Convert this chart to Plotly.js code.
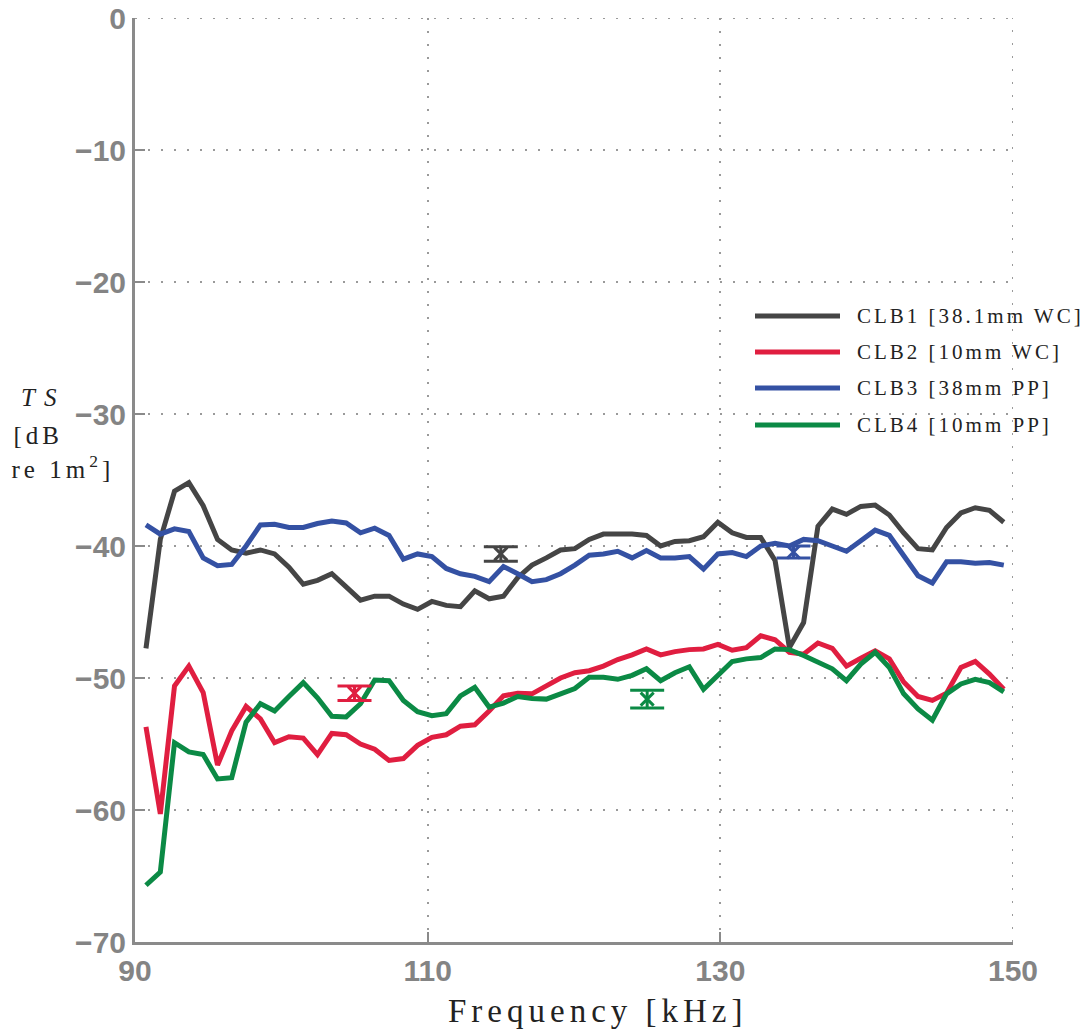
<!DOCTYPE html>
<html>
<head>
<meta charset="utf-8">
<script src="https://cdn.plot.ly/plotly-3.0.1.min.js"></script>
<style>
  html, body { margin: 0; padding: 0; background: #fff; }
  #chart { width: 1091px; height: 1032px; }
  .annotation-text { letter-spacing: 3px; }
  .ytitle-note .annotation-text { letter-spacing: 4px; }
  .ts-note .annotation-text { letter-spacing: 9px; }
  .xtitle-note .annotation-text { letter-spacing: 5px; }
</style>
</head>
<body>
<div id="chart"></div>
<script>
// Sampled frequencies (kHz)
const freq = [
  90.75, 91.73, 92.70, 93.68, 94.66, 95.64, 96.61, 97.59, 98.57, 99.54,
  100.52, 101.50, 102.47, 103.45, 104.43, 105.41, 106.38, 107.36, 108.34, 109.31,
  110.29, 111.27, 112.24, 113.22, 114.20, 115.18, 116.15, 117.13, 118.11, 119.08,
  120.06, 121.04, 122.01, 122.99, 123.97, 124.95, 125.92, 126.90, 127.88, 128.85,
  129.83, 130.81, 131.78, 132.76, 133.74, 134.72, 135.69, 136.67, 137.65, 138.62,
  139.60, 140.58, 141.55, 142.53, 143.51, 144.49, 145.46, 146.44, 147.42, 148.39,
  149.37
];

// Target strength (dB re 1 m^2) for each calibration sphere
const clb1 = [
  -47.75, -39.5, -35.85, -35.2, -36.95, -39.5, -40.3, -40.55, -40.3, -40.6,
  -41.6, -42.9, -42.6, -42.1, -43.1, -44.1, -43.8, -43.8, -44.4, -44.8,
  -44.2, -44.5, -44.6, -43.4, -44.0, -43.8, -42.4, -41.45, -40.9, -40.3,
  -40.2, -39.5, -39.1, -39.1, -39.1, -39.2, -40.0, -39.65, -39.6, -39.3,
  -38.2, -39.0, -39.35, -39.35, -41.1, -47.7, -45.8, -38.5, -37.2, -37.6,
  -37.0, -36.9, -37.65, -39.0, -40.2, -40.3, -38.6, -37.5, -37.1, -37.3,
  -38.2
];
const clb2 = [
  -53.7, -60.3, -50.6, -49.1, -51.1, -56.6, -54.0, -52.15, -53.1, -54.9,
  -54.45, -54.55, -55.8, -54.2, -54.3, -55.0, -55.4, -56.25, -56.1, -55.1,
  -54.5, -54.3, -53.65, -53.55, -52.5, -51.35, -51.15, -51.2, -50.6, -50.0,
  -49.6, -49.45, -49.1, -48.6, -48.25, -47.8, -48.25, -48.0, -47.85, -47.8,
  -47.45, -47.9, -47.7, -46.8, -47.1, -48.05, -48.2, -47.35, -47.75, -49.1,
  -48.5, -47.95, -48.55, -50.3, -51.4, -51.7, -51.15, -49.2, -48.75, -49.7,
  -50.85
];
const clb3 = [
  -38.4, -39.1, -38.7, -38.9, -40.9, -41.5, -41.4, -40.0, -38.4, -38.35,
  -38.6, -38.6, -38.3, -38.1, -38.25, -39.0, -38.65, -39.2, -41.0, -40.6,
  -40.8, -41.7, -42.1, -42.3, -42.7, -41.55, -42.1, -42.7, -42.55, -42.1,
  -41.45, -40.7, -40.6, -40.4, -40.9, -40.35, -40.9, -40.9, -40.8, -41.75,
  -40.6, -40.5, -40.8, -40.0, -39.8, -40.0, -39.5, -39.6, -40.0, -40.4,
  -39.6, -38.8, -39.2, -40.7, -42.25, -42.8, -41.2, -41.2, -41.3, -41.25,
  -41.45
];
const clb4 = [
  -65.7, -64.7, -54.9, -55.6, -55.8, -57.65, -57.55, -53.35, -51.95, -52.5,
  -51.4, -50.35, -51.5, -52.9, -52.95, -51.95, -50.15, -50.2, -51.7, -52.55,
  -52.85, -52.7, -51.35, -50.7, -52.2, -51.9, -51.4, -51.55, -51.6, -51.25,
  -50.8, -49.95, -49.95, -50.1, -49.8, -49.3, -50.2, -49.6, -49.15, -50.85,
  -49.8, -48.75, -48.55, -48.45, -47.8, -47.85, -48.3, -48.75, -49.3, -50.2,
  -48.95, -48.05, -49.2, -51.2, -52.35, -53.2, -51.2, -50.45, -50.1, -50.35,
  -51.05
];

// Theoretical TS of each sphere at its nominal frequency, with uncertainty
const refFreq = [115, 105, 135, 125];
const refTS   = [-40.6, -51.15, -40.45, -51.6];
const refErr  = [0.55, 0.55, 0.45, 0.68];

const names  = ['CLB1 [38.1mm WC]', 'CLB2 [10mm WC]', 'CLB3 [38mm PP]', 'CLB4 [10mm PP]'];
const colors = ['#454545', '#e01e40', '#3451a3', '#0b8a45'];
const series = [clb1, clb2, clb3, clb4];

const xRange = [90, 150];
const yRange = [-70, 0];

const traces = [];
series.forEach((ys, k) => {
  traces.push({
    x: freq, y: ys, type: 'scatter', mode: 'lines', name: names[k],
    line: { color: colors[k], width: 5 }, showlegend: false, hoverinfo: 'skip'
  });
});
refFreq.forEach((f, k) => {
  traces.push({
    x: [f], y: [refTS[k]], type: 'scatter', mode: 'markers', showlegend: false,
    marker: { symbol: 'x-thin', size: 13, color: colors[k], line: { width: 3, color: colors[k] } },
    error_y: { type: 'data', array: [refErr[k]], visible: true, color: colors[k], thickness: 3, width: 17 }
  });
});

// Page geometry
const L = { l: 135, r: 78, t: 18, b: 90 };
const W = 1091, H = 1032;
const pw = W - L.l - L.r, ph = H - L.t - L.b;
const px2x = p => (p - L.l) / pw;
const py2y = p => (H - L.b - p) / ph;

const gridStyle = { color: '#9a9a9a', width: 2, dash: '2px,11px' };
const shapes = [
  // dotted grid along the far edges of the box
  { type: 'line', layer: 'below', xref: 'x', yref: 'paper', x0: xRange[1], x1: xRange[1], y0: 0, y1: 1, line: gridStyle },
  { type: 'line', layer: 'below', xref: 'paper', yref: 'y', x0: 0, x1: 1, y0: yRange[1], y1: yRange[1], line: gridStyle }
];
const annotations = [];
const noteClass = [];

// Legend: long line swatches with spaced serif labels
const legendRows = [316, 352, 388, 425];
names.forEach((n, k) => {
  shapes.push({
    type: 'line', xref: 'paper', yref: 'paper',
    x0: px2x(755), x1: px2x(840), y0: py2y(legendRows[k]), y1: py2y(legendRows[k]),
    line: { color: colors[k], width: 5 }
  });
  annotations.push({
    xref: 'paper', yref: 'paper', x: px2x(855), y: py2y(legendRows[k]),
    xanchor: 'left', yanchor: 'middle', showarrow: false, text: n,
    font: { family: 'Liberation Serif, serif', size: 21, color: '#222' }
  });
  noteClass.push('legend-note');
});

// Horizontal y-axis title in three lines
const yTitle = [
  { text: '<i>TS</i>', px: 25, py: 397, cls: 'ts-note' },
  { text: '[dB', px: 13, py: 436, cls: 'ytitle-note' },
  { text: 're 1m<sup>2</sup>]', px: 13, py: 467, cls: 'ytitle-note' }
];
yTitle.forEach(t => {
  annotations.push({
    xref: 'paper', yref: 'paper', x: px2x(t.px), y: py2y(t.py),
    xanchor: 'left', yanchor: 'middle', showarrow: false, text: t.text,
    font: { family: 'Liberation Serif, serif', size: 25, color: '#222' }
  });
  noteClass.push(t.cls);
});

// x-axis title
annotations.push({
  xref: 'paper', yref: 'paper', x: px2x(598), y: py2y(1011),
  xanchor: 'center', yanchor: 'middle', showarrow: false, text: 'Frequency [kHz]',
  font: { family: 'Liberation Serif, serif', size: 33, color: '#222' }
});
noteClass.push('xtitle-note');

const tickFont = { family: 'Liberation Sans, Arial, sans-serif', size: 30, color: '#848484', weight: 'bold' };

const layout = {
  width: W, height: H,
  margin: L,
  paper_bgcolor: '#fff', plot_bgcolor: '#fff',
  showlegend: false,
  xaxis: {
    range: xRange, dtick: 20, tick0: 90,
    showline: true, linecolor: '#8a8a8a', linewidth: 3, mirror: false,
    ticks: 'inside', ticklen: 10, tickwidth: 2, tickcolor: '#8a8a8a',
    showgrid: true, gridcolor: gridStyle.color, gridwidth: 2, griddash: gridStyle.dash,
    zeroline: false, tickfont: tickFont
  },
  yaxis: {
    range: yRange, dtick: 10,
    showline: true, linecolor: '#8a8a8a', linewidth: 3,
    ticks: 'inside', ticklen: 10, tickwidth: 2, tickcolor: '#8a8a8a',
    showgrid: true, gridcolor: gridStyle.color, gridwidth: 2, griddash: gridStyle.dash,
    zeroline: false, tickfont: tickFont
  },
  shapes: shapes,
  annotations: annotations
};

Plotly.newPlot('chart', traces, layout, { displayModeBar: false, staticPlot: true }).then(gd => {
  // per-label letter tracking
  gd.querySelectorAll('.annotation').forEach((g, i) => {
    if (noteClass[i]) g.classList.add(noteClass[i]);
  });
});
</script>
</body>
</html>
